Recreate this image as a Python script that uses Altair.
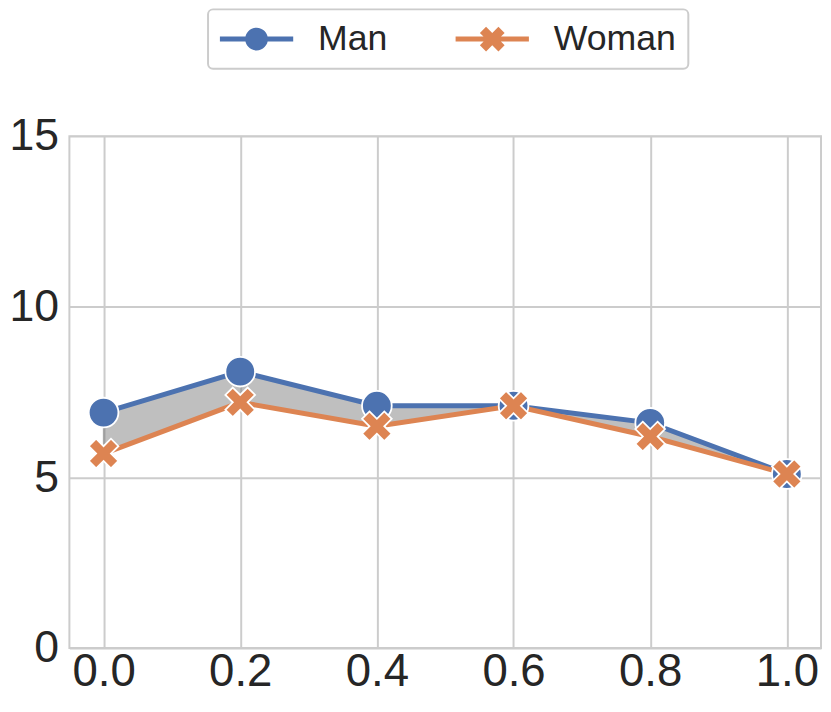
import altair as alt
import pandas as pd

# ---- data ----
x_vals = [0.0, 0.2, 0.4, 0.6, 0.8, 1.0]
man = [6.9, 8.1, 7.1, 7.1, 6.6, 5.1]
woman = [5.7, 7.2, 6.5, 7.1, 6.2, 5.1]
groups = ["Man", "Woman"]
colors = ["#4c72b0", "#dd8452"]
y_ticks = [0, 5, 10, 15]
x_ticks = [0.0, 0.2, 0.4, 0.6, 0.8, 1.0]

wide = pd.DataFrame({"x": x_vals, "Man": man, "Woman": woman})
long = pd.DataFrame({
    "x": x_vals + x_vals,
    "y": man + woman,
    "group": [groups[0]] * len(man) + [groups[1]] * len(woman),
})

# marker shapes (unit square -1..1)
X_PATH = ("M-0.5,-1L0,-0.5L0.5,-1L1,-0.5L0.5,0L1,0.5L0.5,1L0,0.5"
          "L-0.5,1L-1,0.5L-0.5,0L-1,-0.5Z")
# legend glyphs: line + marker (1 unit = 18 px with symbolSize 1296)
LEG_LINE = "M-2.056,-0.139H2.056V0.139H-2.056Z"
LEG_CIRCLE = LEG_LINE + " M-0.639,0A0.639,0.639 0 1,1 0.639,0A0.639,0.639 0 1,1 -0.639,0Z"
LEG_X = LEG_LINE + (" M-0.347,-0.694L0,-0.347L0.347,-0.694L0.694,-0.347L0.347,0"
                    "L0.694,0.347L0.347,0.694L0,0.347L-0.347,0.694L-0.694,0.347"
                    "L-0.347,0L-0.694,-0.347Z")

FONT = "Liberation Sans"
TXT = "#262626"
GRID = "#cccccc"

xscale = alt.Scale(domain=[-0.05, 1.05], nice=False)
yscale = alt.Scale(domain=[0, 15], nice=False)

xaxis = alt.Axis(values=x_ticks, format=".1f", title=None, grid=True, gridColor=GRID,
                 gridWidth=2, ticks=False, tickSize=0, domain=False, labelFont=FONT,
                 labelFontSize=46, labelColor=TXT, labelPadding=2, labelOverlap=False)
yaxis = alt.Axis(values=y_ticks, format="d", title=None, grid=True, gridColor=GRID,
                 gridWidth=2, ticks=False, tickSize=0, domain=False, labelFont=FONT,
                 labelFontSize=45, labelColor=TXT, labelPadding=11, labelOverlap=False)

X = alt.X("x:Q", scale=xscale, axis=xaxis)
Y = alt.Y("y:Q", scale=yscale, axis=yaxis)
color = alt.Color("group:N", scale=alt.Scale(domain=groups, range=colors), legend=None)

area = alt.Chart(wide).mark_area(
    fill="#808080", fillOpacity=0.5, stroke="#808080", strokeOpacity=0.5, strokeWidth=1.5
).encode(
    x=alt.X("x:Q", scale=xscale, axis=xaxis),
    y=alt.Y("Man:Q", scale=yscale, axis=yaxis),
    y2="Woman:Q",
)

lines = alt.Chart(long).mark_line(strokeWidth=5).encode(
    x=X, y=Y, color=color, detail="group:N"
)

points = alt.Chart(long).mark_point(
    filled=True, size=900, opacity=1, stroke="white", strokeWidth=1.8
).encode(
    x=X, y=Y, color=color,
    shape=alt.Shape("group:N", scale=alt.Scale(domain=groups, range=["circle", X_PATH]),
                    legend=None),
)

legend_def = alt.Legend(
    title=None, orient="none", legendX=140, legendY=-128, direction="horizontal",
    labelFont=FONT, labelFontSize=36, labelColor=TXT, labelOffset=44,
    symbolOffset=19, columnPadding=67, padding=12, strokeColor=GRID,
    fillColor="white", cornerRadius=5, symbolSize=1296, symbolStrokeWidth=0,
)

legend_layer = alt.Chart(long).transform_filter("false").mark_point(
    filled=True, size=1296, opacity=1, strokeWidth=0
).encode(
    x=X, y=Y,
    fill=alt.Fill("group:N", scale=alt.Scale(domain=groups, range=colors), legend=legend_def),
    shape=alt.Shape("group:N", scale=alt.Scale(domain=groups, range=[LEG_CIRCLE, LEG_X]),
                    legend=legend_def),
)

chart = alt.layer(area, lines, points, legend_layer).resolve_scale(
    shape="independent", fill="independent"
).properties(
    width=759, height=517,
    autosize=alt.AutoSizeParams(type="none"),
    padding={"left": 62, "top": 126, "right": 2, "bottom": 48},
).configure_view(
    stroke=GRID, strokeWidth=2
).configure_legend(
    strokeWidth=2
)

chart.save("out.html", embed_options={"renderer": "svg", "actions": False})
